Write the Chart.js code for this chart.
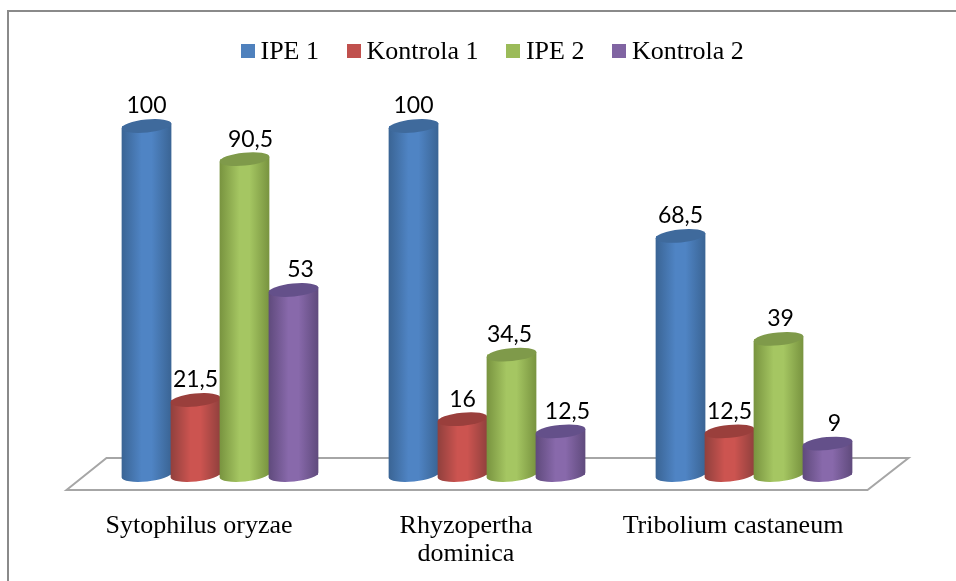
<!DOCTYPE html>
<html>
<head>
<meta charset="utf-8">
<style>
    html, body { margin: 0; padding: 0; background: #fff; }
    #wrap { position: relative; width: 956px; height: 581px; overflow: hidden; }
    #legend { position: absolute; left: 240.5px; top: 33px; display: flex; font: 26px "Liberation Serif", serif; color: #000; line-height: 36px; }
    #legend span.item { display: flex; align-items: center; margin-right: 27.5px; white-space: pre; }
    #legend i { display: block; width: 14px; height: 14px; margin-right: 6px; }
</style>
</head>
<body>
<div id="wrap">
    <canvas id="chart" width="956" height="581"></canvas>
    <div id="legend"></div>
</div>
<script src="https://cdn.jsdelivr.net/npm/chart.js@4/dist/chart.umd.js"></script>
<script>
const categories = ['Sytophilus oryzae', ['Rhyzopertha', 'dominica'], 'Tribolium castaneum'];
const seriesNames = ['IPE 1', 'Kontrola 1', 'IPE 2', 'Kontrola 2'];
const ipe1 = [100, 100, 68.5];
const kontrola1 = [21.5, 16, 12.5];
const ipe2 = [90.5, 34.5, 39];
const kontrola2 = [53, 12.5, 9];

// mid, edge and cap shades for every series
const mids = ['#4f84c4', '#cc5450', '#a5c662', '#8869ab'];
const edges = ['#3a6494', '#90403d', '#78933f', '#5f4a7c'];
const caps = ['#3f6a9c', '#9a3f3c', '#7f9a4a', '#64508a'];
const legendColors = ['#4f81bd', '#c0504d', '#9bbb59', '#8064a2'];

const TILT = -0.1;
const CAP_RY = 6.5;

const formatValue = function (v) {
    return String(v).replace('.', ',');
};

// value labels do not sit exactly over the bars in the original
const labelShift = function (i, j) {
    if (i === 2) return [6, -2, 2][j];
    return i === 3 ? 7 : 0;
};

const floorPlugin = {
    id: 'floor',
    beforeDatasetsDraw: function (chart) {
        const ctx = chart.ctx, a = chart.chartArea;
        ctx.save();
        // frame of the embedded picture, cut off on the right and at the bottom
        ctx.strokeStyle = '#8a8a8a';
        ctx.lineWidth = 2;
        ctx.beginPath();
        ctx.moveTo(8, chart.height);
        ctx.lineTo(8, 11);
        ctx.lineTo(chart.width, 11);
        ctx.stroke();
        // 3d floor under the bars
        ctx.strokeStyle = '#a6a6a6';
        ctx.lineWidth = 2;
        ctx.beginPath();
        ctx.moveTo(a.left - 20, a.bottom + 15);
        ctx.lineTo(a.left + 20, a.bottom - 17);
        ctx.lineTo(a.right + 21, a.bottom - 17);
        ctx.lineTo(a.right - 20, a.bottom + 15);
        ctx.closePath();
        ctx.stroke();
        ctx.restore();
    }
};

const cylinderPlugin = {
    id: 'cylinder',
    afterDatasetsDraw: function (chart) {
        const ctx = chart.ctx;
        chart.data.datasets.forEach(function (ds, i) {
            chart.getDatasetMeta(i).data.forEach(function (bar, j) {
                const rx = bar.width / 2 + 0.5;
                const dy = Math.sin(TILT) * rx;
                const dx = Math.cos(TILT) * rx;
                const body = ctx.createLinearGradient(bar.x - rx, 0, bar.x + rx, 0);
                body.addColorStop(0, edges[i]);
                body.addColorStop(0.4, mids[i]);
                body.addColorStop(0.6, mids[i]);
                body.addColorStop(1, edges[i]);
                ctx.save();
                ctx.fillStyle = body;
                ctx.beginPath();
                ctx.moveTo(bar.x - dx, bar.y - dy);
                ctx.lineTo(bar.x - dx, bar.base - dy);
                ctx.ellipse(bar.x, bar.base, rx, CAP_RY, TILT, Math.PI, 0, true);
                ctx.lineTo(bar.x + dx, bar.y + dy);
                ctx.closePath();
                ctx.fill();
                ctx.fillStyle = caps[i];
                ctx.beginPath();
                ctx.ellipse(bar.x, bar.y, rx, CAP_RY, TILT, 0, Math.PI * 2);
                ctx.fill();
                ctx.fillStyle = '#000';
                ctx.font = '23px Lato, sans-serif';
                ctx.textAlign = 'center';
                ctx.textBaseline = 'middle';
                ctx.fillText(formatValue(ds.data[j]), bar.x + labelShift(i, j), bar.y - 20);
                ctx.restore();
            });
        });
    }
};

const buildLegend = function () {
    const legend = document.getElementById('legend');
    seriesNames.forEach(function (name, i) {
        const item = document.createElement('span');
        item.className = 'item';
        const box = document.createElement('i');
        box.style.background = legendColors[i];
        item.appendChild(box);
        item.appendChild(document.createTextNode(name));
        legend.appendChild(item);
    });
};

const loadChart = function () {
    const seriesValues = [ipe1, kontrola1, ipe2, kontrola2];
    new Chart('chart', {
        type: 'bar',
        data: {
            labels: categories,
            datasets: seriesNames.map(function (name, i) {
                return {
                    label: name,
                    data: seriesValues[i],
                    backgroundColor: legendColors[i],
                    categoryPercentage: 0.734,
                    barPercentage: 1
                };
            })
        },
        options: {
            responsive: false,
            animation: false,
            layout: { padding: { left: 86.5, right: 68.5, top: 126, bottom: 0 } },
            plugins: { legend: { display: false }, tooltip: { enabled: false } },
            scales: {
                x: {
                    grid: { display: false },
                    border: { display: false },
                    afterFit: function (scale) { scale.height = 106; },
                    ticks: {
                        color: '#000',
                        font: { family: '"Liberation Serif", serif', size: 26, lineHeight: 1.08 },
                        padding: 29,
                        labelOffset: -21,
                        maxRotation: 0,
                        autoSkip: false
                    }
                },
                y: { display: false, min: 0, max: 100 }
            }
        },
        plugins: [floorPlugin, cylinderPlugin]
    });
};

buildLegend();
loadChart();
</script>
</body>
</html>
